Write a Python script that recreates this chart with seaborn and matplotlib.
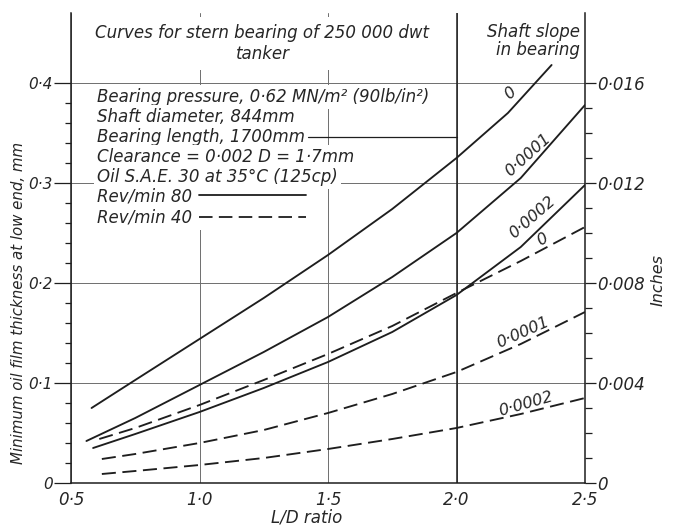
import matplotlib
matplotlib.use("Agg")
import matplotlib.pyplot as plt
from matplotlib.lines import Line2D
import pandas as pd
import seaborn as sns

sns.set_style("white")
plt.rcParams["font.family"] = ["DejaVu Sans"]
plt.rcParams["font.style"] = "italic"

INK = "#1e1e1e"
GRID = "#6e6e6e"
FS = 12

# L/D ratio and minimum film thickness (mm)
# 80 rev/min (solid)
ld_80_s0 = [0.58, 0.75, 1.0, 1.25, 1.5, 1.75, 2.0, 2.2, 2.37]
h_80_s0 = [0.075, 0.103, 0.144, 0.185, 0.228, 0.274, 0.325, 0.370, 0.418]
ld_80_s1 = [0.56, 0.75, 1.0, 1.25, 1.5, 1.75, 2.0, 2.25, 2.5]
h_80_s1 = [0.042, 0.065, 0.098, 0.131, 0.166, 0.206, 0.250, 0.305, 0.378]
ld_80_s2 = [0.586, 0.75, 1.0, 1.25, 1.5, 1.75, 2.0, 2.25, 2.5]
h_80_s2 = [0.035, 0.049, 0.071, 0.095, 0.121, 0.151, 0.188, 0.236, 0.298]
# 40 rev/min (dashed)
ld_40_s0 = [0.61, 0.75, 1.0, 1.25, 1.5, 1.75, 2.0, 2.25, 2.5]
h_40_s0 = [0.044, 0.055, 0.078, 0.103, 0.129, 0.157, 0.190, 0.222, 0.256]
ld_40_s1 = [0.62, 0.75, 1.0, 1.25, 1.5, 1.75, 2.0, 2.25, 2.5]
h_40_s1 = [0.024, 0.029, 0.040, 0.053, 0.070, 0.089, 0.111, 0.139, 0.171]
ld_40_s2 = [0.62, 0.75, 1.0, 1.25, 1.5, 1.75, 2.0, 2.25, 2.5]
h_40_s2 = [0.009, 0.012, 0.018, 0.025, 0.034, 0.044, 0.055, 0.069, 0.085]

slope_labels = ["0", "0·0001", "0·0002"]

x_ticks = [0.5, 1.0, 1.5, 2.0, 2.5]
x_tick_labels = ["0·5", "1·0", "1·5", "2·0", "2·5"]
y_ticks_mm = [0, 0.1, 0.2, 0.3, 0.4]
y_tick_labels_mm = ["0", "0·1", "0·2", "0·3", "0·4"]
y_tick_labels_in = ["0", "0·004", "0·008", "0·012", "0·016"]

notes = [
    "Bearing pressure, 0·62 MN/m² (90lb/in²)",
    "Shaft diameter, 844mm",
    "Bearing length, 1700mm",
    "Clearance = 0·002 D = 1·7mm",
    "Oil S.A.E. 30 at 35°C (125cp)",
]

rows = []
series = [
    ("80", 0, ld_80_s0, h_80_s0), ("80", 1, ld_80_s1, h_80_s1), ("80", 2, ld_80_s2, h_80_s2),
    ("40", 0, ld_40_s0, h_40_s0), ("40", 1, ld_40_s1, h_40_s1), ("40", 2, ld_40_s2, h_40_s2),
]
for rpm, s, xs, ys in series:
    for x, y in zip(xs, ys):
        rows.append({"ld": x, "h": y, "rpm": rpm, "curve": f"{rpm}-{s}"})
df = pd.DataFrame(rows)

DASH = (7.5, 3.5)

fig = plt.figure(figsize=(6.76, 5.28), dpi=100)
fig.patch.set_facecolor("white")
ax = fig.add_axes([71 / 676, 1 - 483 / 528, (585 - 71) / 676, (483 - 13) / 528])

sns.lineplot(
    data=df, x="ld", y="h", units="curve", style="rpm",
    style_order=["80", "40"], dashes={"80": "", "40": DASH},
    estimator=None, sort=False, color=INK, lw=1.35, legend=False, ax=ax, zorder=2,
)

ax.set_xlim(0.5, 2.5)
ax.set_ylim(0, 0.47)
ax.set_xticks(x_ticks, x_tick_labels, fontsize=FS)
ax.set_yticks(y_ticks_mm, y_tick_labels_mm, fontsize=11)
ax.set_yticks([v / 100 for v in range(2, 40, 2) if v % 10], minor=True)
ax.tick_params(axis="x", length=0, pad=6)
ax.tick_params(axis="y", which="major", length=12, width=0.9, color=INK, pad=1)
ax.tick_params(axis="y", which="minor", length=4, width=0.9, color=INK)
ax.set_xlabel("")
ax.set_ylabel("")
ax.grid(True, which="major", color=GRID, lw=0.7)
ax.set_axisbelow(True)
ax.axvline(2.0, color=INK, lw=1.1, zorder=1)

for side in ["top", "right"]:
    ax.spines[side].set_visible(False)
for side in ["left", "bottom"]:
    ax.spines[side].set_color(INK)
    ax.spines[side].set_linewidth(1.1)

ax2 = ax.twinx()
ax2.set_ylim(ax.get_ylim())
ax2.set_yticks(y_ticks_mm, y_tick_labels_in, fontsize=FS)
ax2.set_yticks([v / 1000 for v in range(25, 400, 25) if v % 100], minor=True)
ax2.tick_params(axis="y", which="major", length=8, width=0.9, color=INK, pad=1)
ax2.tick_params(axis="y", which="minor", length=5, width=0.9, color=INK)
for side in ["top", "left", "bottom"]:
    ax2.spines[side].set_visible(False)
ax2.spines["right"].set_color(INK)
ax2.spines["right"].set_linewidth(1.1)
ax2.set_ylabel("")

# header texts
box = dict(facecolor="white", edgecolor="none", pad=2)
ax.text(1.245, 0.4395, "Curves for stern bearing of 250 000 dwt\ntanker",
        ha="center", va="center", multialignment="center", fontsize=FS,
        linespacing=1.15, bbox=dict(facecolor="white", edgecolor="none", pad=5), zorder=3)
ax.text(2.48, 0.442, "Shaft slope\nin bearing", ha="right", va="center",
        multialignment="right", fontsize=FS, linespacing=1.0, zorder=3)

note_y = [0.386, 0.366, 0.346, 0.326, 0.306]
texts = []
for txt, y in zip(notes, note_y):
    texts.append(ax.text(0.601, y, txt, ha="left", va="center", fontsize=FS,
                         bbox=box, zorder=3))

# leader line after "Bearing length"
fig.canvas.draw()
bb = texts[2].get_window_extent(fig.canvas.get_renderer())
x_end = ax.transData.inverted().transform((bb.x1 + 3, 0))[0]
ax.plot([x_end, 2.0], [note_y[2], note_y[2]], color=INK, lw=0.9, zorder=4)

handles = [Line2D([], [], color=INK, lw=1.3),
           Line2D([], [], color=INK, lw=1.3, dashes=DASH)]
leg = ax.legend(handles, ["Rev/min 80", "Rev/min 40"], markerfirst=False,
                loc="center left", bbox_to_anchor=(0.59, 0.276),
                bbox_transform=ax.transData, frameon=True, fancybox=False,
                facecolor="white", edgecolor="none", framealpha=1,
                handlelength=6.4, handletextpad=0.4, labelspacing=0.2,
                borderpad=0.2, borderaxespad=0, fontsize=FS)
leg.set_zorder(3)

# slope labels on the curves
curve_labels = [
    (2.208, 0.390, slope_labels[0], 40),
    (2.278, 0.328, slope_labels[1], 42),
    (2.294, 0.266, slope_labels[2], 41),
    (2.333, 0.243, slope_labels[0], 30),
    (2.259, 0.150, slope_labels[1], 24),
    (2.270, 0.079, slope_labels[2], 16),
]
for x, y, lab, rot in curve_labels:
    ax.text(x, y, lab, ha="center", va="center", rotation=rot,
            rotation_mode="anchor", fontsize=FS - 0.5, zorder=4)

fig.text(19 / 676, 1 - 303 / 528, "Minimum oil film thickness at low end, mm",
         rotation=90, ha="center", va="center", fontsize=10.8)
fig.text(658 / 676, 1 - 280 / 528, "Inches", rotation=90,
         ha="center", va="center", fontsize=11.5)
fig.text(307 / 676, 1 - 518 / 528, "L/D ratio", ha="center", va="center", fontsize=FS)

fig.savefig("out.png", dpi=100, facecolor="white")
